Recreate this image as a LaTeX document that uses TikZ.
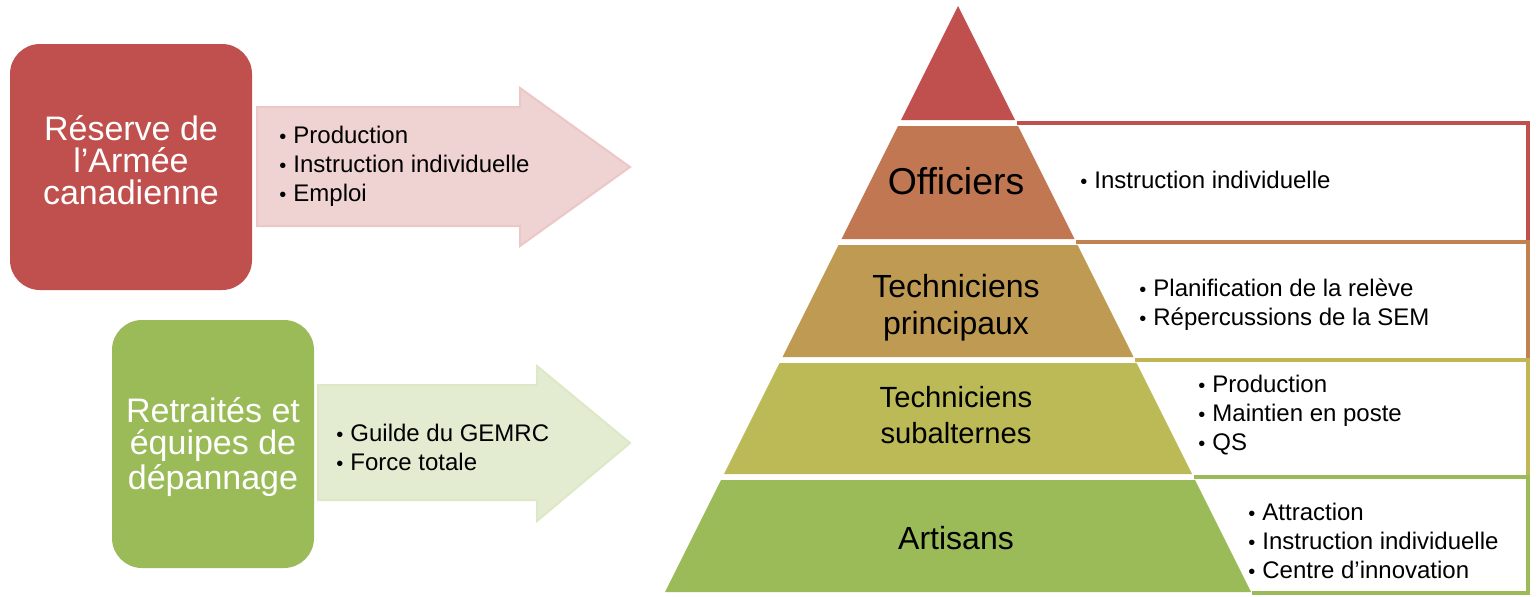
\documentclass[tikz,border=0pt]{standalone}
\usepackage{fontspec}
\setmainfont{Liberation Sans}
\usetikzlibrary{positioning}
\definecolor{rouge}{HTML}{C0504D}
\definecolor{brique}{HTML}{C07752}
\definecolor{ocre}{HTML}{BE9A52}
\definecolor{olive}{HTML}{BCB957}
\definecolor{vert}{HTML}{9BBB59}
\definecolor{cadre-brique}{HTML}{C2824F}
\definecolor{cadre-olive}{HTML}{C0B655}
\newcommand{\puce}{{\fontsize{10}{10}\selectfont\textbullet}\hspace{3.5pt}}

\begin{document}
\begin{tikzpicture}[x=0.5pt, y=-0.5pt,
    bloc/.style={rounded corners=15pt, text=white, align=center, inner sep=0pt,
        font=\fontsize{17}{16}\selectfont},
    liste/.style={anchor=west, align=left, inner sep=0pt,
        font=\fontsize{12}{14.5}\selectfont},
    etage/.style={align=center, inner sep=0pt},
    cadre/.style={line width=2pt, line join=miter}]
    \useasboundingbox (0,0) rectangle (1536,596);

    % blocs de gauche
    \node[bloc, fill=rouge, minimum width=121pt, minimum height=123pt]
        (reserve) at (131,167) {};
    \node[bloc, text=white] (reserve-texte) at (131,160) {Réserve de\\l’Armée\\canadienne};
    \node[bloc, fill=vert, minimum width=101pt, minimum height=124pt]
        (retraites) at (213,444) {};
    \node[bloc, text=white] (retraites-texte) at (213,447) {Retraités et\\équipes de\\dépannage};

    % fleches
    \fill[rouge!25, draw=rouge!32, line width=1pt]
        (257,107) -- (520,107) -- (520,88) -- (630,167)
        -- (520,246) -- (520,226) -- (257,226) -- cycle;
    \fill[vert!28, draw=vert!34, line width=1pt]
        (318,385) -- (537,385) -- (537,366) -- (630,443)
        -- (537,521) -- (537,500) -- (318,500) -- cycle;
    \node[liste] (reserve-liste) at (279,166)
        {\puce Production\\\puce Instruction individuelle\\\puce Emploi};
    \node[liste] (retraites-liste) at (336,447)
        {\puce Guilde du GEMRC\\\puce Force totale};

    % cadres de droite
    \draw[cadre, rouge] (1016.5,123) -- (1528,123) -- (1528,242) -- (1076,242);
    \draw[cadre, cadre-brique] (1076,242) -- (1528,242) -- (1528,360) -- (1135,360);
    \draw[cadre, cadre-olive] (1135,360) -- (1528,360) -- (1528,477) -- (1193.5,477);
    \draw[cadre, vert] (1193.5,477) -- (1528,477) -- (1528,593) -- (1251.5,593);

    % pyramide
    \fill[rouge] (958,6) -- (1015,120) -- (901,120) -- cycle;
    \fill[brique] (898,126) -- (1018,126) -- (1074.5,239) -- (841.5,239) -- cycle;
    \fill[ocre] (838.5,245) -- (1077.5,245) -- (1133.5,357) -- (782.5,357) -- cycle;
    \fill[olive] (779.5,363) -- (1136.5,363) -- (1192,474) -- (724,474) -- cycle;
    \fill[vert] (721,480) -- (1195,480) -- (1251,592) -- (665,592) -- cycle;

    \node[etage, font=\fontsize{18.7}{20}\selectfont] (officiers) at (956,181) {Officiers};
    \node[etage, font=\fontsize{16}{18.5}\selectfont] (principaux) at (956,308)
        {Techniciens\\principaux};
    \node[etage, font=\fontsize{14.6}{18}\selectfont] (subalternes) at (956,415)
        {Techniciens\\subalternes};
    \node[etage, font=\fontsize{16}{18}\selectfont] (artisans) at (956,538) {Artisans};

    % textes des cadres
    \node[liste] (officiers-liste) at (1080,180) {\puce Instruction individuelle};
    \node[liste] (principaux-liste) at (1139,305)
        {\puce Planification de la relève\\\puce Répercussions de la SEM};
    \node[liste] (subalternes-liste) at (1198,415)
        {\puce Production\\\puce Maintien en poste\\\puce QS};
    \node[liste] (artisans-liste) at (1248,541)
        {\puce Attraction\\\puce Instruction individuelle\\\puce Centre d’innovation};
\end{tikzpicture}
\end{document}
